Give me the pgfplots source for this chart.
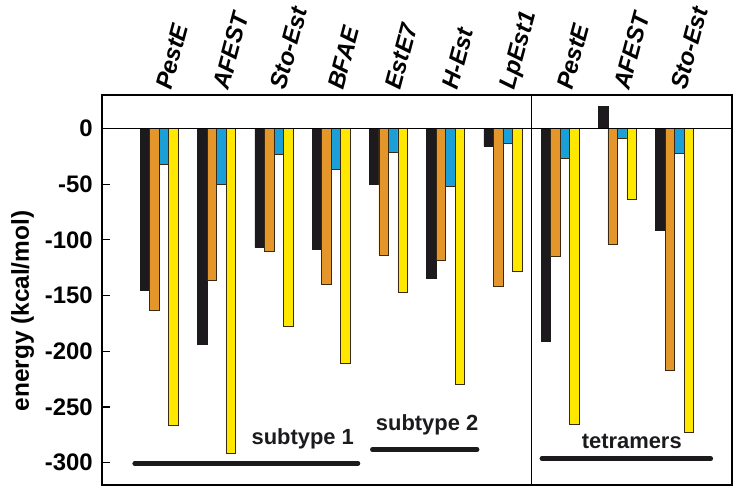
\documentclass[border=0pt]{standalone}
\usepackage{fontspec}
\setmainfont{Liberation Sans}
\usepackage{pgfplots}
\pgfplotsset{compat=1.18}
\definecolor{cblack}{HTML}{1C1A1D}
\definecolor{corange}{HTML}{E5962A}
\definecolor{cblue}{HTML}{1A9FD9}
\definecolor{cyellow}{HTML}{FFE800}
\definecolor{cedge}{HTML}{3A2A12}
\begin{document}
\begin{tikzpicture}
\path[use as bounding box] (0,0) rectangle (741bp,494bp);
\begin{axis}[
  at={(102bp,9bp)}, anchor=south west,
  scale only axis, width=630bp, height=390bp,
  xmin=-1, xmax=10, ymin=-320, ymax=30,
  ybar=0pt, bar width=0.166,
  axis line style={line width=1.4bp},
  xtick={0,...,9},
  xticklabels={PestE,AFEST,Sto-Est,BFAE,EstE7,H-Est,LpEst1,PestE,AFEST,Sto-Est},
  xticklabel pos=upper,
  xtick style={draw=none},
  xticklabel style={font=\fontsize{24}{28}\selectfont\bfseries\itshape, inner sep=0pt, anchor=base west, xshift=12bp, yshift=4bp, rotate=75},
  ytick={-300,-250,...,0},
  ytick pos=left,
  tick align=inside,
  major tick length=8bp,
  ytick style={line width=1.2bp, black},
  yticklabel style={font=\fontsize{24}{28}\selectfont\bfseries, xshift=-5.7bp},
  /pgf/number format/assume math mode=true,
  ylabel={energy (kcal/mol)},
  ylabel style={font=\fontsize{24.5}{28}\selectfont\bfseries, at={(axis description cs:-0.126,0.446)}, anchor=center},
  clip=false,
]
\addplot[fill=cblack, draw=cblack, line width=0.5bp] coordinates {(0,-145) (1,-193.5) (2,-106.8) (3,-108.3) (4,-50.4) (5,-134.4) (6,-15.9) (7,-191.1) (8,20.1) (9,-91.8)};
\addplot[fill=corange, draw=cedge, line width=0.6bp] coordinates {(0,-162.9) (1,-136.5) (2,-110.4) (3,-140.1) (4,-113.7) (5,-117.9) (6,-141.9) (7,-115.2) (8,-103.8) (9,-217.5)};
\addplot[fill=cblue, draw=cedge, line width=0.6bp] coordinates {(0,-32.4) (1,-49.8) (2,-22.8) (3,-36.9) (4,-21.3) (5,-51.9) (6,-12.9) (7,-27) (8,-9.3) (9,-21.9)};
\addplot[fill=cyellow, draw=cedge, line width=0.6bp] coordinates {(0,-266.4) (1,-291.9) (2,-177.9) (3,-210.9) (4,-146.7) (5,-229.5) (6,-127.8) (7,-265.5) (8,-63.3) (9,-272.4)};
\draw[line width=0.9bp] (axis cs:-1,0) -- (axis cs:10,0);
\draw[line width=1.4bp] (axis cs:6.5,-320) -- (axis cs:6.5,30);
\draw[line width=4.5bp, line cap=round, cblack] (axis cs:-0.43,-300.6) -- (axis cs:3.47,-300.6);
\draw[line width=4.5bp, line cap=round, cblack] (axis cs:3.72,-288.3) -- (axis cs:5.55,-288.3);
\draw[line width=4.5bp, line cap=round, cblack] (axis cs:6.68,-296.4) -- (axis cs:9.63,-296.4);
\node[anchor=base, font=\fontsize{22}{26}\selectfont\bfseries, text=cblack, inner sep=0pt] at (axis cs:2.505,-283.5) {subtype 1};
\node[anchor=base, font=\fontsize{22}{26}\selectfont\bfseries, text=cblack, inner sep=0pt] at (axis cs:4.676,-270.9) {subtype 2};
\node[anchor=base, font=\fontsize{22}{26}\selectfont\bfseries, text=cblack, inner sep=0pt] at (axis cs:8.25,-287) {tetramers};
\end{axis}
\end{tikzpicture}
\end{document}
